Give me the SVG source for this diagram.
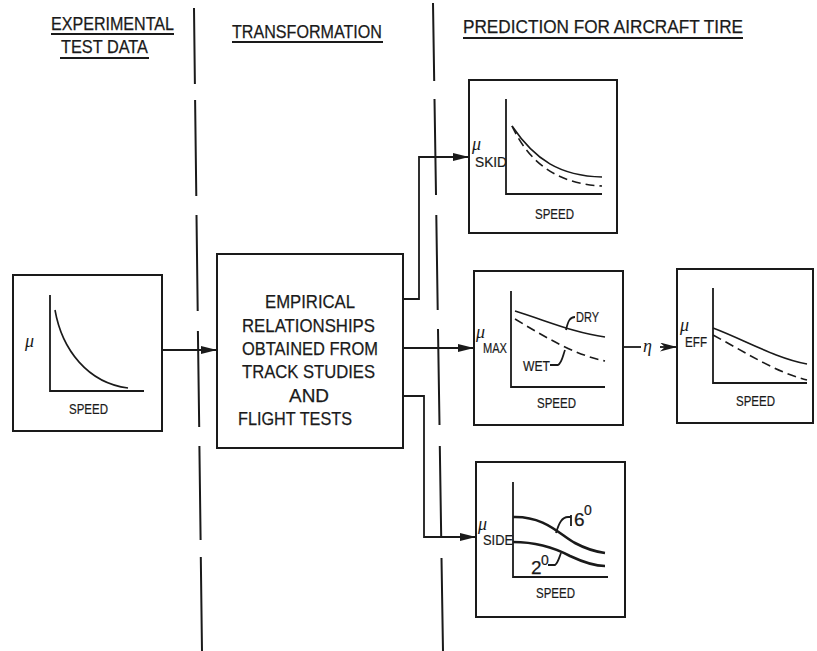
<svg xmlns="http://www.w3.org/2000/svg" width="817" height="651" viewBox="0 0 817 651">
<defs>
<style>
.hd{font-family:"Liberation Sans",Arial,sans-serif;font-size:18.5px;fill:#1a1a1a;stroke:#1a1a1a;stroke-width:0.25}
.bx{font-family:"Liberation Sans",Arial,sans-serif;font-size:19px;fill:#1a1a1a;stroke:#1a1a1a;stroke-width:0.25}
.sm{font-family:"Liberation Sans",Arial,sans-serif;font-size:14px;fill:#1a1a1a;stroke:#1a1a1a;stroke-width:0.2}
.mu{font-family:"Liberation Serif","Times New Roman",serif;font-style:italic;font-size:18px;fill:#1a1a1a}
.box{fill:none;stroke:#1a1a1a;stroke-width:2}
.ax{fill:none;stroke:#1a1a1a;stroke-width:1.8}
.cv{fill:none;stroke:#1a1a1a;stroke-width:1.6}
.dsh{fill:none;stroke:#1a1a1a;stroke-width:1.6;stroke-dasharray:9 5}
.thk{fill:none;stroke:#1a1a1a;stroke-width:2.6}
.ln{fill:none;stroke:#1a1a1a;stroke-width:1.8}
.div{fill:none;stroke:#1a1a1a;stroke-width:2}
.ul{stroke:#1a1a1a;stroke-width:2}
</style>
<marker id="ah" markerUnits="userSpaceOnUse" markerWidth="16" markerHeight="8" refX="16" refY="4" orient="auto">
<path d="M0,0 L16,4 L0,8 z" fill="#1a1a1a"/>
</marker>
<marker id="ahb" markerUnits="userSpaceOnUse" markerWidth="17" markerHeight="9" refX="17" refY="4.5" orient="auto">
<path d="M0,0 L17,4.5 L0,9 L5,4.5 z" fill="#1a1a1a"/>
</marker>
</defs>
<rect width="817" height="651" fill="#ffffff"/>

<g id="headers">
<text class="hd" x="51" y="30" textLength="123" lengthAdjust="spacingAndGlyphs">EXPERIMENTAL</text>
<line class="ul" x1="51" y1="34" x2="174" y2="34"/>
<text class="hd" x="61" y="53" textLength="87" lengthAdjust="spacingAndGlyphs">TEST DATA</text>
<line class="ul" x1="60" y1="58" x2="149" y2="58"/>
<text class="hd" x="232" y="38" textLength="150" lengthAdjust="spacingAndGlyphs">TRANSFORMATION</text>
<line class="ul" x1="232" y1="42" x2="383" y2="42"/>
<text class="hd" x="463" y="33" textLength="280" lengthAdjust="spacingAndGlyphs">PREDICTION FOR AIRCRAFT TIRE</text>
<line class="ul" x1="463" y1="38" x2="743" y2="38"/>
</g>

<g id="dividers">
<path class="div" d="M194,8 L194.9,84 M195.1,100 L196.3,196 M196.5,215 L197.7,311 M197.9,331 L199.2,427 M199.4,446 L200.6,540 M200.8,557 L202,651"/>
<path class="div" d="M433,3 L434.2,81 M434.5,99 L436,195 M436.3,215 L437.7,310 M438,329 L439.5,425 M439.8,446 L441.2,537 M441.5,558 L443,651"/>
</g>

<g id="test-data">
<rect class="box" x="13" y="275" width="149" height="156"/>
<path class="ax" d="M50,295 V391 H144"/>
<path class="cv" d="M55,310 C62,350 88,383 128,388"/>
<text class="mu" x="25" y="347" font-size="20">μ</text>
<text class="sm" x="69" y="414" textLength="39" lengthAdjust="spacingAndGlyphs">SPEED</text>
</g>

<g id="transformation">
<rect class="box" x="217" y="254" width="186" height="194"/>
<text class="bx" x="265" y="308" textLength="90" lengthAdjust="spacingAndGlyphs">EMPIRICAL</text>
<text class="bx" x="242" y="332" textLength="133" lengthAdjust="spacingAndGlyphs">RELATIONSHIPS</text>
<text class="bx" x="242" y="355" textLength="136" lengthAdjust="spacingAndGlyphs">OBTAINED FROM</text>
<text class="bx" x="242" y="378" textLength="133" lengthAdjust="spacingAndGlyphs">TRACK STUDIES</text>
<text class="bx" x="289" y="402" textLength="40" lengthAdjust="spacingAndGlyphs">AND</text>
<text class="bx" x="238" y="425" textLength="114" lengthAdjust="spacingAndGlyphs">FLIGHT TESTS</text>
</g>

<g id="mu-skid">
<rect class="box" x="469" y="80" width="148" height="153"/>
<path class="ax" d="M506,99 V194 H602"/>
<path class="cv" d="M512,126 C535,160 560,176 602,177"/>
<path class="dsh" d="M512,126 C530,165 560,184 602,186"/>
<text class="mu" x="472" y="150" font-size="15">μ</text>
<text class="sm" x="475" y="167" textLength="32" lengthAdjust="spacingAndGlyphs">SKID</text>
<text class="sm" x="535" y="219" textLength="39" lengthAdjust="spacingAndGlyphs">SPEED</text>
</g>

<g id="mu-max">
<rect class="box" x="474" y="271" width="149" height="154"/>
<path class="ax" d="M511,291 V387 H605"/>
<path class="cv" d="M515,311 C550,322 575,333 605,337"/>
<path class="dsh" d="M515,319 C545,337 575,355 605,361"/>
<path class="ln" d="M566,330 C568,321 570,317 575,317" stroke-width="1.4"/>
<text class="sm" x="576" y="322" textLength="23" lengthAdjust="spacingAndGlyphs">DRY</text>
<path class="ln" d="M550,365 L558,365 C562,363 563,355 565,350" stroke-width="1.4"/>
<text class="sm" x="523" y="371" textLength="27" lengthAdjust="spacingAndGlyphs">WET</text>
<text class="mu" x="476" y="338" font-size="15">μ</text>
<text class="sm" x="483" y="353" textLength="24" lengthAdjust="spacingAndGlyphs">MAX</text>
<text class="sm" x="537" y="408" textLength="39" lengthAdjust="spacingAndGlyphs">SPEED</text>
</g>

<g id="mu-eff">
<rect class="box" x="677" y="269" width="136" height="154"/>
<path class="ax" d="M713,288 V383 H807"/>
<path class="cv" d="M713,328 C745,340 775,358 807,364"/>
<path class="dsh" d="M713,335 C745,352 775,372 807,380"/>
<text class="mu" x="680" y="331" font-size="15">μ</text>
<text class="sm" x="685" y="347" textLength="22" lengthAdjust="spacingAndGlyphs">EFF</text>
<text class="sm" x="736" y="406" textLength="39" lengthAdjust="spacingAndGlyphs">SPEED</text>
</g>

<g id="mu-side">
<rect class="box" x="476" y="462" width="149" height="155"/>
<path class="ax" d="M513,482 V577 H608"/>
<path class="thk" d="M513,517 C545,516 560,535 575,543 C588,550 598,552 605,553"/>
<path class="thk" d="M513,542 C535,542 555,548 570,556 C585,563 595,566 605,566"/>
<path class="ln" d="M556,533 C559,523 562,517 568,517 L571,517 M571,515 L571,526" stroke-width="1.4"/>
<text class="bx" x="574" y="526" font-size="17">6</text>
<text class="sm" x="584" y="515" font-size="11">0</text>
<path class="ln" d="M548,565 L555,565 C558,563 559,558 561,553" stroke-width="1.4"/>
<text class="bx" x="531" y="574" font-size="17">2</text>
<text class="sm" x="541" y="565" font-size="11">0</text>
<text class="mu" x="478" y="530" font-size="15">μ</text>
<text class="sm" x="483" y="545" textLength="30" lengthAdjust="spacingAndGlyphs">SIDE</text>
<text class="sm" x="536" y="598" textLength="39" lengthAdjust="spacingAndGlyphs">SPEED</text>
</g>

<g id="connectors">
<path class="ln" d="M162,350 H217" marker-end="url(#ah)"/>
<path class="ln" d="M403,299 H419 V157 H469" marker-end="url(#ah)"/>
<path class="ln" d="M403,348 H474" marker-end="url(#ah)"/>
<path class="ln" d="M403,396 H424 V537 H476" marker-end="url(#ah)"/>
<path class="ln" d="M623,347 H641"/>
<text class="mu" x="643" y="352" font-size="21">η</text>
<path class="ln" d="M660,347 H677" marker-end="url(#ahb)"/>
</g>
</svg>
